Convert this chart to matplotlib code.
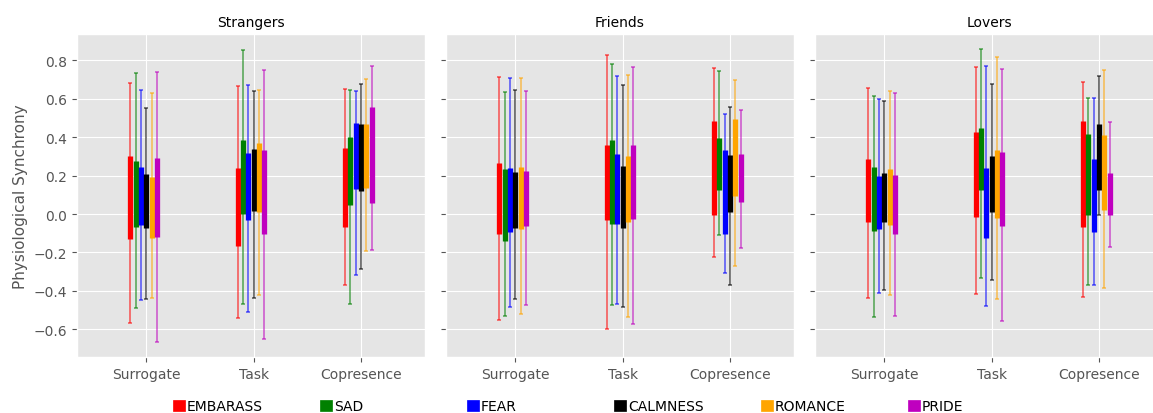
import matplotlib.pyplot as plt
from matplotlib.patches import Patch
import numpy as np

plt.style.use('ggplot')

# conditions on the x axis and emotions drawn side by side
conditions = ['Surrogate', 'Task', 'Copresence']
emotions = ['EMBARASS', 'SAD', 'FEAR', 'CALMNESS', 'ROMANCE', 'PRIDE']
colors = ['red', 'green', 'blue', 'black', 'orange', 'm']
groups = ['Strangers', 'Friends', 'Lovers']

# whisker ends (min / max) per condition, per emotion
strangers_max = [[0.68, 0.736, 0.646, 0.552, 0.629, 0.739],
                 [0.667, 0.855, 0.670, 0.642, 0.646, 0.748],
                 [0.649, 0.646, 0.639, 0.675, 0.701, 0.769]]
strangers_min = [[-0.57, -0.49, -0.45, -0.445, -0.436, -0.668],
                 [-0.542, -0.466, -0.511, -0.438, -0.424, -0.649],
                 [-0.371, -0.469, -0.315, -0.284, -0.194, -0.189]]
# thick bar ends
strangers_top = [[0.30, 0.274, 0.246, 0.208, 0.192, 0.291],
                 [0.241, 0.384, 0.319, 0.341, 0.369, 0.331],
                 [0.343, 0.40, 0.474, 0.468, 0.471, 0.556]]
strangers_bot = [[-0.13, -0.069, -0.057, -0.073, -0.123, -0.118],
                 [-0.164, 0.002, -0.033, 0.017, 0.009, -0.106],
                 [-0.069, 0.045, 0.128, 0.119, 0.135, 0.055]]

friends_max = [[0.712, 0.636, 0.708, 0.646, 0.708, 0.642],
               [0.828, 0.779, 0.717, 0.670, 0.726, 0.765],
               [0.762, 0.746, 0.523, 0.558, 0.70, 0.540]]
friends_min = [[-0.554, -0.530, -0.485, -0.443, -0.523, -0.473],
               [-0.599, -0.473, -0.469, -0.483, -0.537, -0.573],
               [-0.223, -0.109, -0.308, -0.371, -0.272, -0.175]]
friends_top = [[0.265, 0.232, 0.242, 0.220, 0.246, 0.223],
               [0.360, 0.384, 0.315, 0.249, 0.301, 0.360],
               [0.487, 0.397, 0.331, 0.306, 0.495, 0.312]]
friends_bot = [[-0.102, -0.139, -0.094, -0.073, -0.076, -0.061],
               [-0.031, -0.052, -0.052, -0.073, -0.040, -0.026],
               [-0.003, 0.126, -0.102, 0.009, 0.092, 0.062]]

lovers_max = [[0.658, 0.613, 0.597, 0.590, 0.639, 0.632],
              [0.765, 0.861, 0.769, 0.677, 0.816, 0.753],
              [0.687, 0.606, 0.606, 0.717, 0.750, 0.478]]
lovers_min = [[-0.438, -0.537, -0.410, -0.398, -0.424, -0.530],
              [-0.419, -0.334, -0.480, -0.346, -0.443, -0.556],
              [-0.431, -0.367, -0.372, -0.003, -0.386, -0.173]]
lovers_top = [[0.286, 0.246, 0.197, 0.216, 0.234, 0.204],
              [0.429, 0.448, 0.241, 0.301, 0.331, 0.322],
              [0.483, 0.417, 0.289, 0.471, 0.410, 0.213]]
lovers_bot = [[-0.040, -0.088, -0.078, -0.040, -0.055, -0.106],
              [-0.016, 0.123, -0.126, 0.012, -0.021, -0.061],
              [-0.069, -0.003, -0.094, 0.126, 0.023, -0.003]]

panels = [(strangers_min, strangers_max, strangers_bot, strangers_top),
          (friends_min, friends_max, friends_bot, friends_top),
          (lovers_min, lovers_max, lovers_bot, lovers_top)]

fig = plt.figure(figsize=(11.53, 4.14), dpi=100)

x = np.arange(len(conditions))
step = 0.05
axes = []
for k, (name, (lo, hi, blo, bhi)) in enumerate(zip(groups, panels)):
    ax = fig.add_axes([(77 + k * 369) / 1153, 56 / 414, 348 / 1153, 323 / 414],
                      sharey=axes[0] if axes else None)
    axes.append(ax)
    lo, hi = np.array(lo), np.array(hi)
    blo, bhi = np.array(blo), np.array(bhi)
    for i, c in enumerate(colors):
        xi = x + (i - 3) * step
        mid = (lo[:, i] + hi[:, i]) / 2
        ax.errorbar(xi, mid, yerr=[mid - lo[:, i], hi[:, i] - mid], fmt='none',
                    ecolor=c, alpha=0.6, elinewidth=1.2, capsize=1.5, capthick=1.2)
        ax.vlines(xi, blo[:, i], bhi[:, i], color=c, lw=3.8)
    ax.set_xlim(-0.646, 2.596)
    ax.set_xticks(x)
    ax.set_xticklabels(conditions, fontsize=10)
    ax.set_title(name, fontsize=10, color='black')
    ax.tick_params(axis='y', labelsize=10)
    if k > 0:
        ax.tick_params(axis='y', labelleft=False)

axes[0].set_yticks(np.arange(-0.6, 0.81, 0.2))
axes[0].set_ylabel('Physiological Synchrony', fontsize=11, color='#555555')

# legend entries evenly spaced along the bottom
for i, (lab, c) in enumerate(zip(emotions, colors)):
    fig.legend([Patch(facecolor=c, edgecolor=c)], [lab], loc='center left',
               bbox_to_anchor=((173 + 147 * i) / 1153, 7 / 414),
               frameon=False, fontsize=10, handlelength=0.85, handleheight=0.85,
               handletextpad=0.15, borderpad=0, borderaxespad=0)

fig.savefig('out.png', dpi=100)
